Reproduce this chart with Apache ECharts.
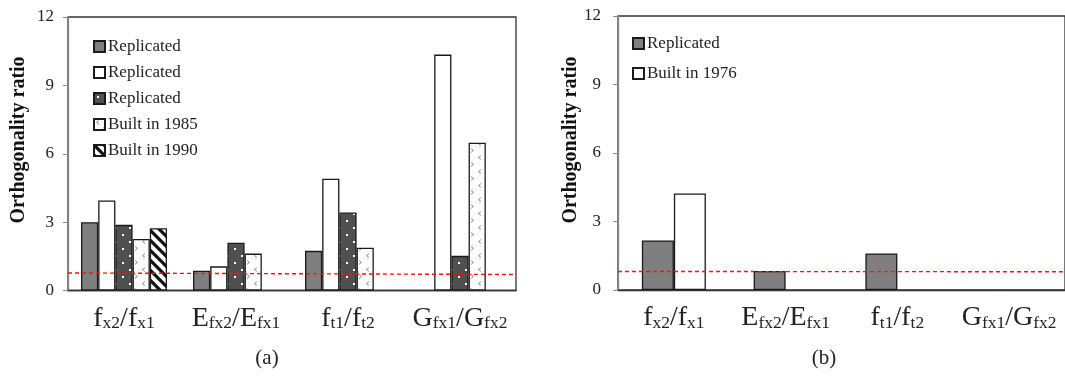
<!DOCTYPE html>
<html><head><meta charset="utf-8">
<script src="https://cdn.jsdelivr.net/npm/echarts@6/dist/echarts.min.js"></script>
<style>html,body{margin:0;padding:0;background:#fff}#c{width:1065px;height:376px}</style>
</head><body><div id="c"></div>
<script>
// ---- data ----
const categories = ['{m|f}{s|x2}{m|/f}{s|x1}', '{m|E}{s|fx2}{m|/E}{s|fx1}', '{m|f}{s|t1}{m|/f}{s|t2}', '{m|G}{s|fx1}{m|/G}{s|fx2}'];
const yTicks = [0, 3, 6, 9, 12];
const aReplicated1 = [3.0, 0.87, 1.74, null];
const aReplicated2 = [3.95, 1.06, 4.9, 10.35];
const aReplicated3 = [2.88, 2.1, 3.42, 1.52];
const aBuilt1985 = [2.26, 1.62, 1.88, 6.48];
const aBuilt1990 = [2.73, null, null, null];
const bReplicated = [2.17, 0.83, 1.6, null];
const bBuilt1976 = [4.23, null, null, null];
const aLimit = [[0, 0.77], [1, 0.70]];
const bLimit = [[0, 0.81], [1, 0.80]];

// ---- patterns ----
function tile(w, h, draw) {
  const c = document.createElement('canvas'); c.width = w; c.height = h;
  const g = c.getContext('2d'); draw(g); return {image: c, repeat: 'repeat'};
}
const dotPat = tile(14, 14, g => {
  g.fillStyle = '#505050'; g.fillRect(0, 0, 14, 14);
  g.fillStyle = '#ffffff'; g.fillRect(3, 3, 2, 2); g.fillRect(10, 10, 2, 2);
});
const chevPat = tile(14, 14, g => {
  g.fillStyle = '#ffffff'; g.fillRect(0, 0, 14, 14);
  g.strokeStyle = '#8a8a8a'; g.lineWidth = 1;
  g.beginPath(); g.moveTo(5, 1.5); g.lineTo(2.5, 3.5); g.lineTo(5, 5.5); g.stroke();
  g.beginPath(); g.moveTo(9, 8.5); g.lineTo(11.5, 10.5); g.lineTo(9, 12.5); g.stroke();
});
const hatchPat = tile(10, 10, g => {
  g.fillStyle = '#ffffff'; g.fillRect(0, 0, 10, 10);
  g.strokeStyle = '#111'; g.lineWidth = 3.2;
  g.beginPath();
  g.moveTo(-5, -5); g.lineTo(15, 15);
  g.moveTo(-5, 5); g.lineTo(5, 15);
  g.moveTo(5, -5); g.lineTo(15, 5);
  g.stroke();
});

const serif = 'Liberation Serif';
const border = {borderColor: '#1a1a1a', borderWidth: 1.3};
function xAx(gi) {
  return {type: 'category', gridIndex: gi, data: categories,
    axisTick: {show: false}, axisLine: {lineStyle: {color: '#333', width: 1.3}},
    axisLabel: {margin: 11, interval: 0, formatter: v => v, rich: {
      m: {fontFamily: serif, fontSize: 28, color: '#222', verticalAlign: 'bottom', lineHeight: 31},
      s: {fontFamily: serif, fontSize: 17.5, color: '#222', verticalAlign: 'bottom', lineHeight: 22}
    }}};
}
function yAx(gi, margin) {
  return {type: 'value', gridIndex: gi, min: 0, max: 12, interval: 3,
    splitLine: {show: false},
    axisLine: {show: true, lineStyle: {color: '#888', width: 1.3}},
    axisTick: {show: true, length: 5, lineStyle: {color: '#888'}},
    axisLabel: {margin: margin, fontFamily: serif, fontSize: 17, color: '#222',
      formatter: v => yTicks.includes(v) ? String(v) : ''}};
}
function bar(name, data, color, xi, w) {
  return {type: 'bar', name: name, data: data, xAxisIndex: xi, yAxisIndex: xi,
    barWidth: w, barGap: '0%', itemStyle: Object.assign({color: color}, border), silent: true};
}
function limit(data, xi, yi) {
  return {type: 'line', data: data, xAxisIndex: xi, yAxisIndex: yi, symbol: 'none', silent: true,
    lineStyle: {color: '#ff1010', width: 1.4, type: [4, 3]}, z: 5};
}

const chart = echarts.init(document.getElementById('c'), null, {renderer: 'canvas'});
chart.setOption({
  animation: false,
  grid: [
    {left: 68, top: 17, width: 448, height: 273.5, show: true, borderColor: '#333', borderWidth: 1.3},
    {left: 618, top: 16, width: 452, height: 274, show: true, borderColor: '#333', borderWidth: 1.3}
  ],
  xAxis: [xAx(0), xAx(1),
    {type: 'value', gridIndex: 0, min: 0, max: 1, show: false},
    {type: 'value', gridIndex: 1, min: 0, max: 1, show: false}],
  yAxis: [yAx(0, 14), yAx(1, 17)],
  legend: [
    {data: ['Replicated', 'Replicated ', 'Replicated  ', 'Built in 1985', 'Built in 1990'],
      orient: 'vertical', left: 88, top: 33, itemWidth: 11, itemHeight: 11, itemGap: 9,
      icon: 'rect', formatter: n => n.trim(), selectedMode: false,
      textStyle: {fontFamily: serif, fontSize: 17, color: '#222', lineHeight: 16, padding: [0, 0, 0, -2]}},
    {data: ['Replicated   ', 'Built in 1976'],
      orient: 'vertical', left: 627, top: 30, itemWidth: 11, itemHeight: 11, itemGap: 13,
      icon: 'rect', formatter: n => n.trim(), selectedMode: false,
      textStyle: {fontFamily: serif, fontSize: 17, color: '#222', lineHeight: 16, padding: [0, 0, 0, -2]}}
  ],
  series: [
    bar('Replicated', aReplicated1, '#7f7f7f', 0, 17.2),
    bar('Replicated ', aReplicated2, '#ffffff', 0, 17.2),
    bar('Replicated  ', aReplicated3, dotPat, 0, 17.2),
    bar('Built in 1985', aBuilt1985, chevPat, 0, 17.2),
    bar('Built in 1990', aBuilt1990, hatchPat, 0, 17.2),
    bar('Replicated   ', bReplicated, '#7f7f7f', 1, 32),
    bar('Built in 1976', bBuilt1976, '#ffffff', 1, 32),
    limit(aLimit, 2, 0),
    limit(bLimit, 3, 1)
  ],
  graphic: [
    {type: 'text', x: 19, y: 140, rotation: Math.PI / 2,
      style: {text: 'Orthogonality ratio', fontFamily: serif, fontWeight: 'bold', fontSize: 20, fill: '#111', align: 'center', verticalAlign: 'middle'}},
    {type: 'text', x: 571, y: 140, rotation: Math.PI / 2,
      style: {text: 'Orthogonality ratio', fontFamily: serif, fontWeight: 'bold', fontSize: 20, fill: '#111', align: 'center', verticalAlign: 'middle'}},
    {type: 'text', x: 267, y: 358,
      style: {text: '(a)', fontFamily: serif, fontSize: 21, fill: '#222', align: 'center', verticalAlign: 'middle'}},
    {type: 'text', x: 824, y: 358,
      style: {text: '(b)', fontFamily: serif, fontSize: 21, fill: '#222', align: 'center', verticalAlign: 'middle'}}
  ]
});
</script></body></html>
